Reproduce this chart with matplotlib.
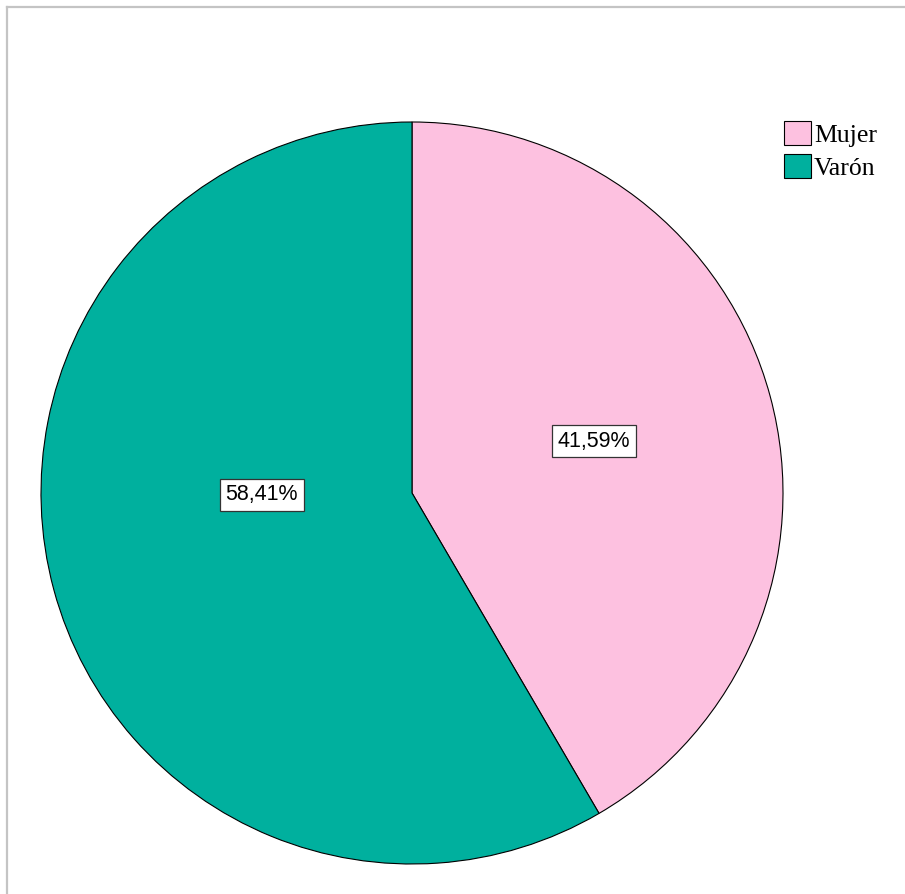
import matplotlib.pyplot as plt
from matplotlib.lines import Line2D

# Datos
categorias = ["Mujer", "Varón"]
porcentajes = [41.59, 58.41]
colores = ["#fdc1e0", "#00b09e"]

W, H = 905, 894
fig = plt.figure(figsize=(W / 100, H / 100), dpi=100)

# Marco gris arriba e izquierda
fig.add_artist(Line2D([7 / W, 1], [1 - 7 / H, 1 - 7 / H], color="#c4c4c4", lw=1.6))
fig.add_artist(Line2D([7 / W, 7 / W], [0, 1 - 7 / H], color="#c4c4c4", lw=1.6))

# Ejes del pastel (centro 412,493 px, radio 371 px)
cx, cy, r = 412, 493, 371
ax = fig.add_axes([(cx - r) / W, (H - cy - r) / H, 2 * r / W, 2 * r / H])

wedges, textos, autotextos = ax.pie(
    porcentajes, colors=colores, startangle=90, counterclock=False, radius=1,
    wedgeprops=dict(edgecolor="black", linewidth=0.8),
    autopct=lambda p: f"{p:.2f}%".replace(".", ","),
    textprops=dict(family="Liberation Sans", fontsize=15.5),
)
ax.set_xlim(-1, 1)
ax.set_ylim(-1, 1)
ax.set_aspect("equal")
ax.axis("off")

# Posición de las etiquetas
posiciones = [(0.49, 0.14), (-0.405, -0.005)]
for t, pos in zip(autotextos, posiciones):
    t.set_position(pos)
    t.set_bbox(dict(boxstyle="square,pad=0.26", facecolor="white",
                    edgecolor="#333333", linewidth=0.9))

# Leyenda
ax.legend(wedges, categorias, loc="upper left",
          bbox_to_anchor=(784 / W, 1 - 121 / H), bbox_transform=fig.transFigure,
          frameon=False, borderpad=0, borderaxespad=0,
          prop=dict(family="Liberation Serif", size=18.5),
          handlelength=1.05, handleheight=1.05, handletextpad=0.12,
          labelspacing=0.3)

plt.savefig("out.png", dpi=100)
